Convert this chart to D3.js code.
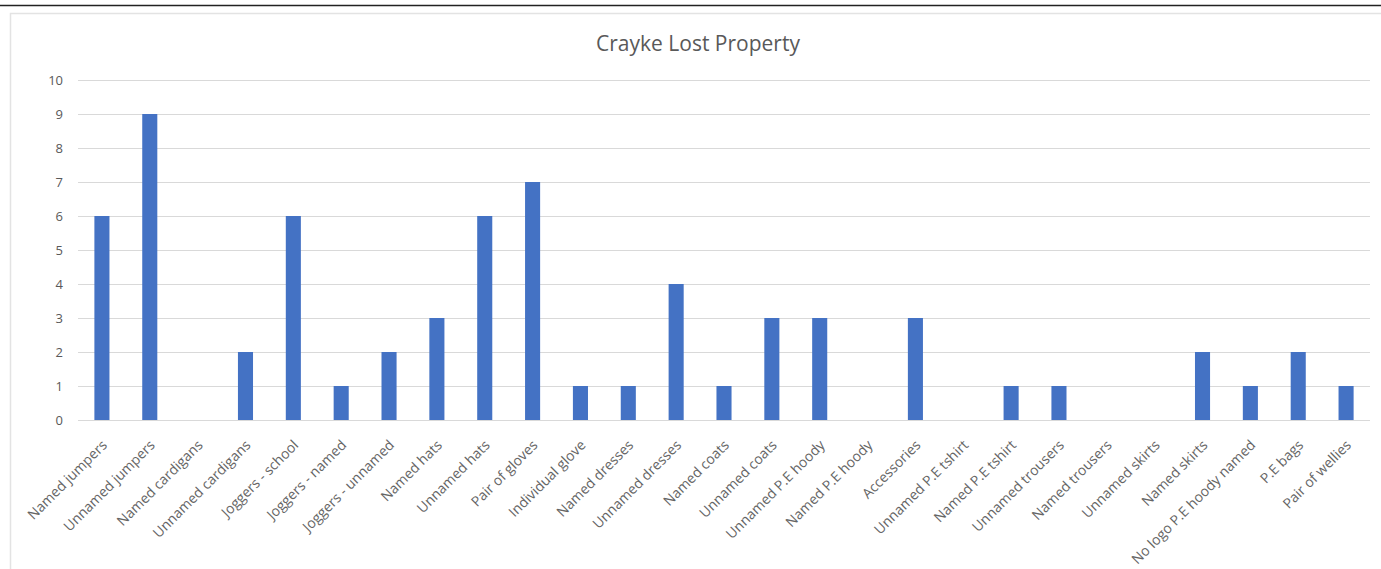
<!DOCTYPE html>
<html>
<head>
<meta charset="utf-8">
<script src="https://cdn.jsdelivr.net/npm/d3@7"></script>
<style>
  html, body { margin: 0; padding: 0; background: #fff; }
  svg { display: block; }
  text { font-family: "Open Sans", "Noto Sans", sans-serif; }
</style>
</head>
<body>
<svg id="chart" width="1381" height="569"></svg>
<script>
const title = "Crayke Lost Property";
const categories = [
  "Named jumpers", "Unnamed jumpers", "Named cardigans", "Unnamed cardigans",
  "Joggers - school", "Joggers - named", "Joggers - unnamed", "Named hats",
  "Unnamed hats", "Pair of gloves", "Individual glove", "Named dresses",
  "Unnamed dresses", "Named coats", "Unnamed coats", "Unnamed P.E hoody",
  "Named P.E hoody", "Accessories", "Unnamed P.E tshirt", "Named P.E tshirt",
  "Unnamed trousers", "Named trousers", "Unnamed skirts", "Named skirts",
  "No logo P.E hoody named", "P.E bags", "Pair of wellies"
];
const values = [6, 9, 0, 2, 6, 1, 2, 3, 6, 7, 1, 1, 4, 1, 3, 3, 0, 3, 0, 1, 1, 0, 0, 2, 1, 2, 1];
const yTicks = [0, 1, 2, 3, 4, 5, 6, 7, 8, 9, 10];

const svg = d3.select("#chart");

// document line above chart
svg.append("line").attr("x1", 0).attr("x2", 1381).attr("y1", 5.5).attr("y2", 5.5)
  .attr("stroke", "#222").attr("stroke-width", 1.5);

// chart area border (top & left visible)
svg.append("rect").attr("x", 10.5).attr("y", 13.5).attr("width", 1400).attr("height", 600)
  .attr("fill", "#fff").attr("stroke", "#e3e3e3").attr("stroke-width", 1.5);

const plot = { left: 78, right: 1370, top: 80, bottom: 420 };

const x = d3.scaleBand().domain(categories).range([plot.left, plot.right])
  .paddingInner(0.685).paddingOuter(0.3425);
const y = d3.scaleLinear().domain([0, 10]).range([plot.bottom, plot.top]);

// gridlines
svg.append("g").selectAll("line").data(yTicks).join("line")
  .attr("x1", plot.left).attr("x2", plot.right)
  .attr("y1", d => Math.round(y(d)) + 0.5).attr("y2", d => Math.round(y(d)) + 0.5)
  .attr("stroke", "#d9d9d9").attr("stroke-width", 1);

// y axis labels
const yAxis = d3.axisLeft(y).tickValues(yTicks).tickSize(0).tickPadding(0).tickFormat(d3.format("d"));
const gy = svg.append("g").attr("transform", `translate(${plot.left - 15},0)`).call(yAxis);
gy.select(".domain").remove();
gy.selectAll("text").attr("fill", "#595959").style("font-size", "13px")
  .style("font-family", "'Open Sans', sans-serif");

// bars
svg.append("g").selectAll("rect").data(categories).join("rect")
  .attr("x", d => x(d))
  .attr("width", x.bandwidth())
  .attr("y", (d, i) => y(values[i]))
  .attr("height", (d, i) => y(0) - y(values[i]))
  .attr("fill", "#4472C4");

// x axis labels
const xAxis = d3.axisBottom(x).tickSize(0).tickPadding(0);
const gx = svg.append("g").attr("transform", `translate(0,${plot.bottom})`).call(xAxis);
gx.select(".domain").remove();
gx.selectAll("text")
  .attr("fill", "#656565")
  .style("font-size", "14px")
  .style("font-family", "'Open Sans', sans-serif")
  .attr("text-anchor", "end")
  .attr("dy", null)
  .attr("y", 0)
  .attr("transform", "translate(6,26) rotate(-45)");

// title
svg.append("text").attr("x", 698).attr("y", 51).attr("text-anchor", "middle")
  .attr("fill", "#595959").style("font-size", "21px").text(title);
</script>
</body>
</html>
